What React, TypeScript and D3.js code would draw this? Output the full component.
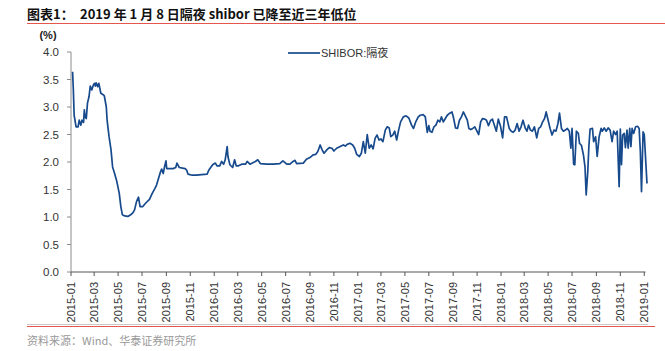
import React from "react";
import * as d3 from "d3";

// ---- Data: SHIBOR overnight rate (%) ----
const shibor2015: [string, number][] = [
  ["2015-01-05", 3.64], ["2015-01-07", 3.31], ["2015-01-09", 2.85], ["2015-01-14", 2.64], ["2015-01-19", 2.64],
  ["2015-01-22", 2.76], ["2015-01-26", 2.67], ["2015-01-29", 2.76], ["2015-02-02", 2.72], ["2015-02-04", 2.95],
  ["2015-02-06", 2.82], ["2015-02-09", 2.79], ["2015-02-12", 3.07], ["2015-02-16", 3.19], ["2015-02-19", 3.38],
  ["2015-02-23", 3.31], ["2015-02-27", 3.40], ["2015-03-02", 3.43], ["2015-03-04", 3.38], ["2015-03-06", 3.44],
  ["2015-03-10", 3.37], ["2015-03-13", 3.43], ["2015-03-18", 3.25], ["2015-03-25", 3.22], ["2015-03-27", 3.20],
  ["2015-04-01", 3.00], ["2015-04-03", 2.76], ["2015-04-08", 2.46], ["2015-04-13", 2.22], ["2015-04-17", 1.91],
  ["2015-04-21", 1.82], ["2015-04-27", 1.67], ["2015-05-04", 1.43], ["2015-05-08", 1.19], ["2015-05-12", 1.04],
  ["2015-05-18", 1.02], ["2015-05-26", 1.01], ["2015-06-02", 1.04], ["2015-06-08", 1.08], ["2015-06-12", 1.13],
  ["2015-06-17", 1.28], ["2015-06-22", 1.36], ["2015-06-26", 1.19], ["2015-07-03", 1.19], ["2015-07-10", 1.25],
  ["2015-07-20", 1.32], ["2015-07-27", 1.43], ["2015-08-03", 1.52], ["2015-08-07", 1.58], ["2015-08-12", 1.70],
  ["2015-08-17", 1.82], ["2015-08-20", 1.87], ["2015-08-24", 1.79], ["2015-08-27", 1.90], ["2015-08-31", 2.02],
  ["2015-09-02", 1.88], ["2015-09-09", 1.88], ["2015-09-18", 1.88], ["2015-09-25", 1.90], ["2015-09-28", 1.98],
  ["2015-10-04", 1.90], ["2015-10-12", 1.89], ["2015-10-19", 1.88], ["2015-10-23", 1.85], ["2015-10-26", 1.78],
  ["2015-11-06", 1.76], ["2015-11-16", 1.76], ["2015-12-14", 1.78], ["2015-12-18", 1.85], ["2015-12-28", 1.95],
];

const shibor2016: [string, number][] = [
  ["2016-01-04", 1.98], ["2016-01-08", 1.93], ["2016-01-15", 1.93], ["2016-01-20", 2.01], ["2016-01-25", 1.96],
  ["2016-01-29", 2.04], ["2016-02-03", 2.28], ["2016-02-05", 2.10], ["2016-02-10", 1.95], ["2016-02-17", 1.90],
  ["2016-02-22", 2.04], ["2016-02-26", 1.93], ["2016-03-03", 1.93], ["2016-03-11", 1.96], ["2016-03-21", 1.96],
  ["2016-03-25", 2.01], ["2016-04-01", 1.96], ["2016-04-15", 2.01], ["2016-04-21", 2.04], ["2016-04-28", 1.97],
  ["2016-05-13", 1.96], ["2016-05-30", 1.96], ["2016-06-16", 1.97], ["2016-06-24", 2.02], ["2016-07-04", 1.96],
  ["2016-07-12", 1.96], ["2016-07-20", 2.01], ["2016-07-25", 2.03], ["2016-07-29", 1.97], ["2016-08-15", 1.98],
  ["2016-08-23", 2.05], ["2016-09-01", 2.08], ["2016-09-09", 2.13], ["2016-09-16", 2.14], ["2016-09-21", 2.19],
  ["2016-09-27", 2.31], ["2016-10-02", 2.22], ["2016-10-07", 2.16], ["2016-10-14", 2.22], ["2016-10-20", 2.26],
  ["2016-10-27", 2.25], ["2016-11-01", 2.20], ["2016-11-08", 2.25], ["2016-11-17", 2.28], ["2016-11-25", 2.31],
  ["2016-11-30", 2.29], ["2016-12-05", 2.32], ["2016-12-12", 2.34], ["2016-12-19", 2.31], ["2016-12-24", 2.25],
  ["2016-12-29", 2.14],
];

const shibor2017: [string, number][] = [
  ["2017-01-05", 2.10], ["2017-01-10", 2.16], ["2017-01-15", 2.37], ["2017-01-20", 2.16], ["2017-01-25", 2.50],
  ["2017-01-30", 2.25], ["2017-02-04", 2.31], ["2017-02-09", 2.24], ["2017-02-14", 2.43], ["2017-02-19", 2.49],
  ["2017-02-24", 2.40], ["2017-03-01", 2.42], ["2017-03-06", 2.37], ["2017-03-12", 2.58], ["2017-03-17", 2.64],
  ["2017-03-22", 2.62], ["2017-03-26", 2.46], ["2017-03-31", 2.49], ["2017-04-05", 2.56], ["2017-04-10", 2.40],
  ["2017-04-15", 2.58], ["2017-04-20", 2.73], ["2017-04-27", 2.82], ["2017-05-04", 2.84], ["2017-05-11", 2.80],
  ["2017-05-18", 2.67], ["2017-05-23", 2.61], ["2017-05-28", 2.72], ["2017-06-04", 2.82], ["2017-06-09", 2.85],
  ["2017-06-17", 2.86], ["2017-06-22", 2.82], ["2017-06-27", 2.54], ["2017-07-01", 2.66], ["2017-07-04", 2.56],
  ["2017-07-09", 2.54], ["2017-07-14", 2.64], ["2017-07-19", 2.67], ["2017-07-24", 2.76], ["2017-07-29", 2.73],
  ["2017-08-02", 2.82], ["2017-08-07", 2.73], ["2017-08-12", 2.79], ["2017-08-17", 2.85], ["2017-08-22", 2.88],
  ["2017-08-29", 2.91], ["2017-09-02", 2.80], ["2017-09-07", 2.62], ["2017-09-12", 2.61], ["2017-09-17", 2.76],
  ["2017-09-22", 2.82], ["2017-09-27", 2.91], ["2017-10-02", 2.84], ["2017-10-07", 2.76], ["2017-10-11", 2.61],
  ["2017-10-16", 2.59], ["2017-10-21", 2.61], ["2017-10-26", 2.64], ["2017-10-31", 2.57], ["2017-11-05", 2.50],
  ["2017-11-10", 2.73], ["2017-11-15", 2.79], ["2017-11-20", 2.78], ["2017-11-25", 2.76], ["2017-11-30", 2.66],
  ["2017-12-05", 2.75], ["2017-12-10", 2.78], ["2017-12-15", 2.67], ["2017-12-20", 2.56], ["2017-12-25", 2.78],
  ["2017-12-31", 2.64],
];

const shibor2018: [string, number][] = [
  ["2018-01-05", 2.44], ["2018-01-10", 2.82], ["2018-01-15", 2.82], ["2018-01-18", 2.73], ["2018-01-22", 2.61],
  ["2018-01-27", 2.56], ["2018-02-01", 2.54], ["2018-02-06", 2.58], ["2018-02-11", 2.70], ["2018-02-16", 2.56],
  ["2018-02-21", 2.64], ["2018-02-26", 2.76], ["2018-03-04", 2.61], ["2018-03-08", 2.56], ["2018-03-12", 2.67],
  ["2018-03-17", 2.58], ["2018-03-22", 2.56], ["2018-03-27", 2.64], ["2018-04-02", 2.44], ["2018-04-07", 2.61],
  ["2018-04-12", 2.64], ["2018-04-17", 2.73], ["2018-04-22", 2.79], ["2018-04-26", 2.91], ["2018-05-01", 2.76],
  ["2018-05-06", 2.61], ["2018-05-11", 2.49], ["2018-05-16", 2.58], ["2018-05-21", 2.56], ["2018-05-26", 2.70],
  ["2018-05-30", 2.89], ["2018-06-04", 2.61], ["2018-06-09", 2.56], ["2018-06-14", 2.58], ["2018-06-19", 2.61],
  ["2018-06-24", 2.56], ["2018-06-28", 2.25], ["2018-07-01", 2.61], ["2018-07-05", 1.96], ["2018-07-08", 1.95],
  ["2018-07-12", 2.56], ["2018-07-17", 2.52], ["2018-07-20", 2.34], ["2018-07-25", 2.30], ["2018-07-30", 2.13],
  ["2018-08-03", 1.91], ["2018-08-06", 1.40], ["2018-08-10", 1.82], ["2018-08-13", 2.30], ["2018-08-16", 2.60],
  ["2018-08-22", 2.61], ["2018-08-25", 2.37], ["2018-08-30", 2.46], ["2018-09-03", 2.10], ["2018-09-08", 2.46],
  ["2018-09-13", 2.61], ["2018-09-16", 2.56], ["2018-09-21", 2.62], ["2018-09-26", 2.56], ["2018-10-01", 2.62],
  ["2018-10-06", 2.58], ["2018-10-11", 2.37], ["2018-10-15", 2.56], ["2018-10-20", 2.50], ["2018-10-24", 2.56],
  ["2018-10-29", 1.55], ["2018-11-01", 2.60], ["2018-11-04", 1.95], ["2018-11-07", 2.49], ["2018-11-11", 2.52],
  ["2018-11-14", 2.26], ["2018-11-18", 2.58], ["2018-11-21", 2.25], ["2018-11-25", 2.61], ["2018-11-28", 2.28],
  ["2018-12-01", 2.61], ["2018-12-05", 2.52], ["2018-12-10", 2.64], ["2018-12-15", 2.65], ["2018-12-19", 2.61],
  ["2018-12-22", 2.19], ["2018-12-25", 1.46], ["2018-12-29", 2.55],
];

const shibor2019: [string, number][] = [
  ["2019-01-01", 2.50], ["2019-01-08", 1.61],
];

const yTickValues = [0, 0.5, 1, 1.5, 2, 2.5, 3, 3.5, 4];
const titleLabel = "图表1：";
const titleText = "2019 年 1 月 8 日隔夜 shibor 已降至近三年低位";
const seriesName = "SHIBOR:隔夜";
const unitLabel = "(%)";
const sourceText = "资料来源：Wind、华泰证券研究所";
const xStart = "2015-01-01";
const xEnd = "2019-01-08";

// ---- Styles ----
const W = 665;
const H = 351;
const LINE_COLOR = "#174a8c";
const FONT = "'Liberation Sans', Arial, 'Noto Sans CJK SC', sans-serif";
const CJK_FONT = "'Noto Sans CJK SC', 'Liberation Sans', sans-serif";

export default function App() {
  const parse = d3.timeParse("%Y-%m-%d");
  const data = [...shibor2015, ...shibor2016, ...shibor2017, ...shibor2018, ...shibor2019].map(
    ([d, v]) => ({ date: parse(d) as Date, value: v })
  );

  const plot = { left: 71, right: 647, top: 52, bottom: 272 };
  const x = d3.scaleTime().domain([parse(xStart) as Date, parse(xEnd) as Date]).range([plot.left, plot.right]);
  const y = d3.scaleLinear().domain([0, 4]).range([plot.bottom, plot.top]);

  const xTicks = x.ticks(d3.timeMonth.every(2) as d3.TimeInterval);
  const fmtX = d3.timeFormat("%Y-%m");
  const fmtY = d3.format(".1f");

  const line = d3
    .line<{ date: Date; value: number }>()
    .x((d) => x(d.date))
    .y((d) => y(d.value));

  return (
    <div style={{ position: "absolute", left: 0, top: 0 }}>
      <svg width={W} height={H} style={{ display: "block", background: "#fff" }}>
        {/* Title */}
        <text x={27} y={18.5} fontFamily={CJK_FONT} fontWeight="bold" fontSize={13} fill="#111">
          {titleLabel}
        </text>
        <text x={80} y={18.5} fontFamily={CJK_FONT} fontWeight="bold" fontSize={13} fill="#111">
          {titleText}
        </text>
        <line x1={27} x2={665} y1={23.5} y2={23.5} stroke="#e5564e" strokeWidth={1} />

        {/* Unit label */}
        <text x={48} y={39} textAnchor="middle" fontFamily={FONT} fontWeight="bold" fontSize={11} fill="#222">
          {unitLabel}
        </text>

        {/* Y axis */}
        <line x1={plot.left} x2={plot.left} y1={plot.top} y2={plot.bottom} stroke="#8c8c8c" strokeWidth={1} />
        {yTickValues.map((t) => (
          <g key={t}>
            <line x1={plot.left - 4} x2={plot.left} y1={y(t)} y2={y(t)} stroke="#8c8c8c" strokeWidth={1} />
            <text
              x={59}
              y={y(t)}
              dy="0.36em"
              textAnchor="end"
              fontFamily={FONT}
              fontSize={11.5}
              fill="#333"
            >
              {fmtY(t)}
            </text>
          </g>
        ))}

        {/* X axis */}
        <line x1={plot.left} x2={plot.right - 1.5} y1={plot.bottom} y2={plot.bottom} stroke="#555" strokeWidth={1} />
        {xTicks.map((t) => (
          <g key={t.getTime()}>
            <line x1={x(t)} x2={x(t)} y1={plot.bottom} y2={plot.bottom + 4} stroke="#555" strokeWidth={1} />
            <text
              transform={`translate(${x(t)},${plot.bottom + 10}) rotate(-90)`}
              dy="0.36em"
              textAnchor="end"
              fontFamily={FONT}
              fontSize={11}
              fill="#333"
            >
              {fmtX(t)}
            </text>
          </g>
        ))}

        {/* Series line */}
        <path d={line(data) ?? ""} fill="none" stroke={LINE_COLOR} strokeWidth={1.7} strokeLinejoin="round" />

        {/* Legend */}
        <line x1={288} x2={320} y1={53} y2={53} stroke={LINE_COLOR} strokeWidth={1.7} />
        <text x={321} y={53} dy="0.36em" fontFamily={FONT} fontSize={11} fill="#333">
          {seriesName}
        </text>

        {/* Bottom rules and source */}
        <line x1={27} x2={648} y1={324.5} y2={324.5} stroke="#c8c8c8" strokeWidth={1} />
        <line x1={27} x2={655} y1={326.5} y2={326.5} stroke="#e5564e" strokeWidth={1} />
        <text x={27} y={345} fontFamily={CJK_FONT} fontSize={11} fill="#999">
          {sourceText}
        </text>
      </svg>
    </div>
  );
}
